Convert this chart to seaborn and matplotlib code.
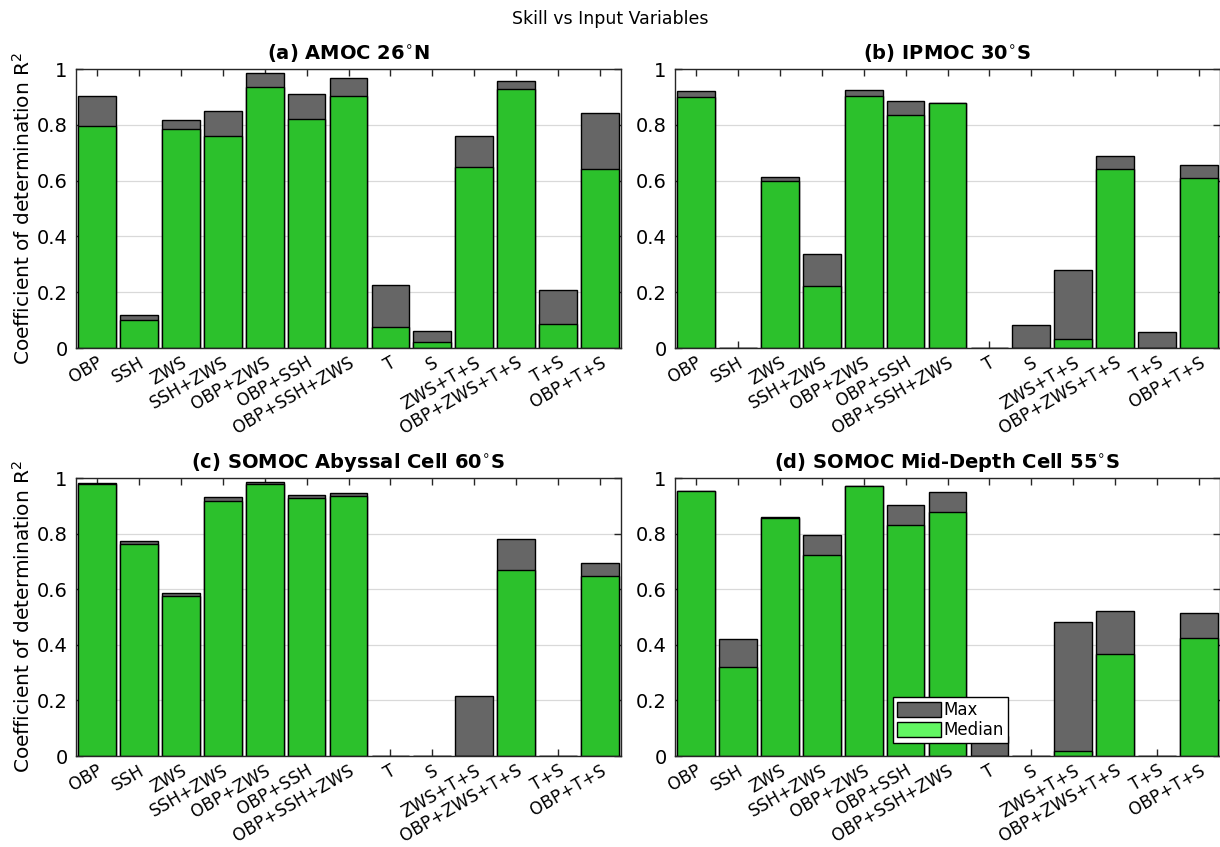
import matplotlib
matplotlib.use("Agg")
import matplotlib.pyplot as plt
import seaborn as sns
import pandas as pd
from matplotlib.patches import Patch

# Input-variable combinations used by the reconstructions
categories = ["OBP", "SSH", "ZWS", "SSH+ZWS", "OBP+ZWS", "OBP+SSH", "OBP+SSH+ZWS",
              "T", "S", "ZWS+T+S", "OBP+ZWS+T+S", "T+S", "OBP+T+S"]

# (a) AMOC 26N
amoc_max = [0.905, 0.120, 0.818, 0.848, 0.987, 0.909, 0.968, 0.226, 0.061, 0.760, 0.957, 0.207, 0.844]
amoc_median = [0.794, 0.099, 0.786, 0.759, 0.937, 0.820, 0.902, 0.075, 0.022, 0.648, 0.928, 0.087, 0.640]

# (b) IPMOC 30S
ipmoc_max = [0.922, 0.0, 0.614, 0.338, 0.926, 0.884, 0.878, 0.0, 0.081, 0.280, 0.689, 0.057, 0.657]
ipmoc_median = [0.898, 0.0, 0.599, 0.223, 0.902, 0.834, 0.877, 0.0, 0.0, 0.034, 0.641, 0.0, 0.610]

# (c) SOMOC abyssal cell 60S
abyssal_max = [0.983, 0.773, 0.586, 0.930, 0.984, 0.938, 0.946, 0.0, 0.0, 0.215, 0.782, 0.0, 0.696]
abyssal_median = [0.978, 0.762, 0.576, 0.919, 0.979, 0.929, 0.936, 0.0, 0.0, 0.0, 0.669, 0.0, 0.649]

# (d) SOMOC mid-depth cell 55S
middepth_max = [0.954, 0.421, 0.858, 0.796, 0.972, 0.904, 0.951, 0.073, 0.0, 0.481, 0.523, 0.0, 0.515]
middepth_median = [0.953, 0.319, 0.857, 0.724, 0.971, 0.831, 0.876, 0.0, 0.0, 0.018, 0.367, 0.0, 0.423]

titles = [r"(a) AMOC 26$^{\circ}$N", r"(b) IPMOC 30$^{\circ}$S",
          r"(c) SOMOC Abyssal Cell 60$^{\circ}$S", r"(d) SOMOC Mid-Depth Cell 55$^{\circ}$S"]
y_ticks = [0, 0.2, 0.4, 0.6, 0.8, 1.0]
y_tick_labels = ["0", "0.2", "0.4", "0.6", "0.8", "1"]

MAX_COLOR = "#666666"
MEDIAN_COLOR = "#2cc12c"
LEGEND_MEDIAN_COLOR = "#62f562"

sns.set_style("ticks")
plt.rcParams["font.family"] = ["DejaVu Sans"]
plt.rcParams["axes.edgecolor"] = "#262626"
plt.rcParams["text.color"] = "black"
plt.rcParams["axes.labelcolor"] = "black"

fig = plt.figure(figsize=(12.2, 8.47), dpi=100)
W, H = 1220, 847
ax_w = 545
# (left, top, height) in pixels for each panel
positions = [(76, 69, 279), (675, 69, 279), (76, 478, 278), (675, 478, 278)]
axes = [fig.add_axes([x / W, 1 - (y + h) / H, ax_w / W, h / H]) for x, y, h in positions]

panels = [(amoc_max, amoc_median), (ipmoc_max, ipmoc_median),
          (abyssal_max, abyssal_median), (middepth_max, middepth_median)]

for i, (ax, (vmax, vmed)) in enumerate(zip(axes, panels)):
    df = pd.DataFrame({"combo": categories, "Max": vmax, "Median": vmed})
    ax.set_axisbelow(True)
    ax.grid(True, color="#d9d9d9", linewidth=0.9)
    sns.barplot(data=df, x="combo", y="Max", order=categories, color=MAX_COLOR,
                saturation=1, width=0.9, edgecolor="black", linewidth=1.0, ax=ax)
    sns.barplot(data=df, x="combo", y="Median", order=categories, color=MEDIAN_COLOR,
                saturation=1, width=0.9, edgecolor="black", linewidth=1.0, ax=ax)
    ax.set_xlim(-0.5, len(categories) - 0.5)
    ax.set_ylim(0, 1)
    ax.set_yticks(y_ticks)
    ax.set_yticklabels(y_tick_labels, fontsize=14)
    ax.set_xticks(range(len(categories)))
    ax.set_xticklabels(categories, rotation=30, ha="right", rotation_mode="anchor", fontsize=12.2)
    ax.tick_params(direction="in", length=5, width=1, top=True, right=True, colors="#262626",
                   labelcolor="black", pad=6)
    ax.tick_params(axis="x", pad=4)
    for sp in ax.spines.values():
        sp.set_visible(True)
        sp.set_linewidth(1.0)
    ax.set_xlabel("")
    if i % 2 == 0:
        ax.set_ylabel(r"Coefficient of determination R$^2$", fontsize=14.5, labelpad=2)
    else:
        ax.set_ylabel("")
    ax.set_title(titles[i], fontsize=14, fontweight="bold", pad=7, color="black")

handles = [Patch(facecolor=MAX_COLOR, edgecolor="black", label="Max"),
           Patch(facecolor=LEGEND_MEDIAN_COLOR, edgecolor="black", label="Median")]
leg = axes[3].legend(handles=handles, loc="lower left", bbox_to_anchor=(0.40, 0.047),
                     fontsize=12, frameon=True, fancybox=False, framealpha=1,
                     edgecolor="black", handlelength=2.6, handleheight=1.0,
                     borderpad=0.25, labelspacing=0.12, handletextpad=0.15, borderaxespad=0)
leg.set_zorder(10)

fig.suptitle("Skill vs Input Variables", fontsize=12.5, y=0.988, color="black")

fig.savefig("out.png", dpi=100)
